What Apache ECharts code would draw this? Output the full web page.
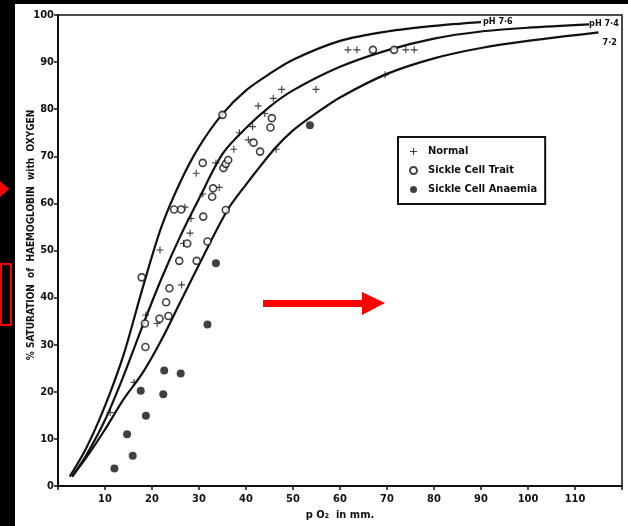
<!DOCTYPE html>
<html>
<head>
<meta charset="utf-8">
<script src="https://cdn.jsdelivr.net/npm/echarts@6/dist/echarts.min.js"></script>
<style>
  html, body { margin: 0; padding: 0; background: #fff; }
  #chart { width: 628px; height: 526px; }
</style>
</head>
<body>
<div id="chart"></div>
<script>
// values: [pO2 mm, % saturation]
var normalPts = [[11.1,15.6],[16.2,22],[18.7,36.3],[21.1,34.5],[21.7,50.1],[26.3,42.7],[26.7,51.5],
  [28.1,53.7],[28.3,56.8],[27,59.2],[30.8,62],[34.3,63.4],[29.4,66.4],[33.6,68.6],[35.5,67.9],
  [37.4,71.5],[38.6,75],[40.5,73.5],[41.4,76.3],[42.6,80.7],[44,79.1],[45.8,82.3],[47.6,84.2],
  [46.4,71.5],[54.9,84.2],[61.7,92.6],[63.6,92.6],[69.6,87.3],[74,92.6],[75.8,92.6]];
var traitPts = [[17.8,44.3],[18.6,29.5],[18.5,34.5],[21.6,35.5],[23.5,36.1],[23,39],[23.7,42],
  [24.7,58.7],[26.2,58.7],[25.8,47.8],[27.5,51.5],[29.5,47.8],[30.9,57.2],[30.8,68.6],[31.8,51.9],
  [32.8,61.4],[33,63.2],[35.2,67.5],[35.7,68.4],[36.2,69.2],[35.7,58.6],[35,78.8],[41.6,72.9],
  [43,71],[45.2,76.1],[45.5,78.1],[67,92.6],[71.5,92.6]];
var anaemiaPts = [[12,3.7],[15.9,6.4],[14.7,11],[18.7,14.9],[17.6,20.2],[22.4,19.5],[22.6,24.5],
  [26.1,23.9],[31.8,34.3],[33.6,47.3],[53.6,76.6]];

// dissociation curves at three pH values
var curve76 = [[2.5,2],[6,8],[10,17],[14,28],[18,42],[22,55],[26,64.5],[30,72],[35,79],[40,84],
  [45,87.5],[50,90.5],[60,94.5],[70,96.5],[80,97.7],[90,98.5]];
var curve74 = [[3,2],[6,6.5],[10,14],[14,23.5],[18,34],[22,44],[26,53],[30,61],[35,70.5],[40,76],
  [45,80.5],[50,84],[60,89],[70,92.5],[80,95],[90,96.5],[100,97.3],[113,98]];
var curve72 = [[3,2],[6,6],[10,12],[14,18.5],[18,24],[22,31],[26,39],[30,47],[36,58.5],[40,64],
  [46,71.5],[50,75.5],[55,79.2],[60,82.5],[70,87.5],[80,90.8],[90,93],[100,94.5],[115,96.3]];

var legendNames = ['Normal', 'Sickle Cell Trait', 'Sickle Cell Anaemia'];
var curveNames = ['pH 7·6', 'pH 7·4', '7·2'];

var font = '"Liberation Sans Narrow", "DejaVu Sans Condensed", sans-serif';
var ink = '#111';
var plus = 'path://M4.2,0H5.8V4.2H10V5.8H5.8V10H4.2V5.8H0V4.2H4.2Z';

var chart = echarts.init(document.getElementById('chart'));

function curveSeries(name, data, offset) {
  return {
    name: name,
    type: 'line',
    data: data,
    smooth: 0.3,
    showSymbol: false,
    silent: true,
    lineStyle: { color: ink, width: 2.2 },
    endLabel: {
      show: true,
      formatter: name,
      color: ink,
      fontFamily: font,
      fontWeight: 'bold',
      fontSize: 9,
      distance: 2,
      offset: offset
    },
    z: 2
  };
}

var option = {
  animation: false,
  backgroundColor: '#fff',
  grid: {
    left: 58, top: 15, width: 564, height: 471,
    show: true, borderColor: ink, borderWidth: 1.5, backgroundColor: 'transparent'
  },
  legend: {
    data: legendNames,
    orient: 'vertical',
    left: 398, top: 137,
    padding: [9, 8, 9, 11],
    itemGap: 8,
    itemWidth: 7, itemHeight: 7,
    borderColor: ink, borderWidth: 2,
    backgroundColor: '#fff',
    textStyle: { color: ink, fontFamily: font, fontWeight: 'bold', fontSize: 11, padding: [0, 0, 0, 6] }
  },
  xAxis: {
    type: 'value', min: 0, max: 120, interval: 10,
    name: 'p O₂  in mm.', nameLocation: 'middle', nameGap: 23,
    nameTextStyle: { color: ink, fontFamily: font, fontWeight: 'bold', fontSize: 11 },
    axisLine: { lineStyle: { color: ink, width: 2 } },
    axisTick: { length: 4, lineStyle: { color: ink, width: 1.5 } },
    axisLabel: {
      color: ink, fontFamily: font, fontWeight: 'bold', fontSize: 11, margin: 8,
      formatter: function (v) { return (v === 0 || v === 120) ? '' : v; }
    },
    splitLine: { show: false }
  },
  yAxis: {
    type: 'value', min: 0, max: 100, interval: 10,
    axisLine: { show: true, lineStyle: { color: ink, width: 2 } },
    axisTick: { show: true, length: 4, lineStyle: { color: ink, width: 1.5 } },
    axisLabel: { color: ink, fontFamily: font, fontWeight: 'bold', fontSize: 11, margin: 4 },
    splitLine: { show: false }
  },
  graphic: [
    { type: 'rect', shape: { x: 0, y: 0, width: 15, height: 526 }, style: { fill: '#000' }, z: 100 },
    { type: 'rect', shape: { x: 0, y: 0, width: 628, height: 4 }, style: { fill: '#000' }, z: 100 },
    { type: 'polygon', shape: { points: [[0, 181], [9, 189], [0, 197]] }, style: { fill: '#ff0000' }, z: 101 },
    { type: 'rect', shape: { x: 1, y: 264, width: 10, height: 61 }, style: { fill: 'none', stroke: '#ff0000', lineWidth: 2 }, z: 101 },
    { type: 'polygon', shape: { points: [[263, 300], [362, 300], [362, 292], [385, 303], [362, 315], [362, 307], [263, 307]] },
      style: { fill: '#ff0000' }, z: 101 },
    { type: 'text', x: 31, y: 235, rotation: Math.PI / 2,
      style: { text: '% SATURATION  of  HAEMOGLOBIN  with  OXYGEN', fill: ink, font: 'bold 10px ' + font,
        align: 'center', verticalAlign: 'middle' }, z: 50 }
  ],
  series: [
    curveSeries(curveNames[0], curve76, [0, 0]),
    curveSeries(curveNames[1], curve74, [-2, -1]),
    curveSeries(curveNames[2], curve72, [2, 10]),
    {
      name: legendNames[0], type: 'scatter', data: normalPts,
      symbol: plus, symbolSize: 7,
      itemStyle: { color: ink }, z: 3
    },
    {
      name: legendNames[1], type: 'scatter', data: traitPts,
      symbol: 'circle', symbolSize: 7,
      itemStyle: { color: '#fff', borderColor: ink, borderWidth: 1.6 }, z: 3
    },
    {
      name: legendNames[2], type: 'scatter', data: anaemiaPts,
      symbol: 'circle', symbolSize: 8,
      itemStyle: { color: ink }, z: 3
    }
  ]
};

chart.setOption(option);
</script>
</body>
</html>
